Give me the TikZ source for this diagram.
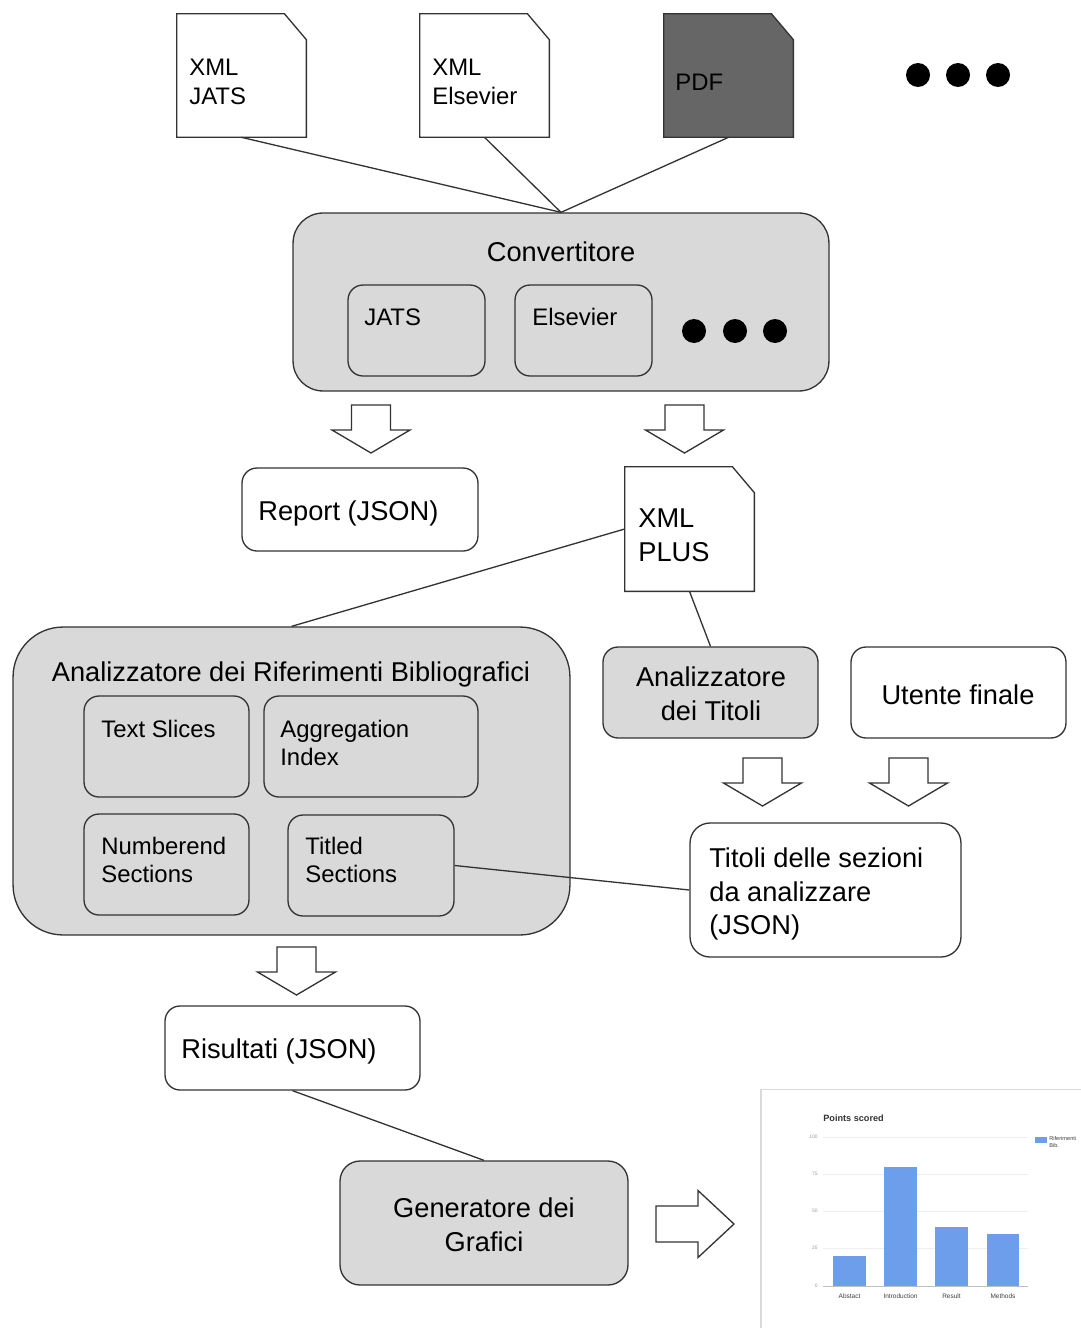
\documentclass[tikz,border=0pt]{standalone}
\usepackage{fontspec}
\setmainfont{Liberation Sans}
\usetikzlibrary{calc}
\definecolor{boxgray}{HTML}{D9D9D9}
\definecolor{pdfgray}{HTML}{666666}
\definecolor{linec}{HTML}{333333}
\definecolor{barblue}{HTML}{6D9EEB}
\definecolor{gridc}{HTML}{EEEEEE}
\definecolor{tickc}{HTML}{999999}
\newcommand{\docoutline}[2]{%
  \draw[outl,fill=#2] (#1.south west) -- (#1.north west) -- ($(#1.north east)+(-22,0)$) -- ($(#1.north east)+(0,26)$) -- (#1.south east) -- cycle;}
\tikzset{
  outl/.style={draw=linec,line width=0.75pt},
  bigtxt/.style={font=\fontsize{15.5}{19.3}\selectfont,inner sep=0pt},
  smalltxt/.style={font=\fontsize{13.6}{16.2}\selectfont,inner sep=0pt},
  docnode/.style={minimum width=2.58cm,minimum height=2.46cm,inner sep=0pt,draw=none},
  rbox/.style={outl,rounded corners=0.3cm,inner sep=0pt},
  graybox/.style={rbox,fill=boxgray},
  whitebox/.style={rbox,fill=white},
  dotc/.style={fill=black,circle,inner sep=0pt,minimum size=0.48cm},
  conn/.style={draw=linec,line width=0.75pt},
  arrowbox/.style={outl,fill=white,line join=miter},
  downarrow/.pic={\draw[arrowbox] (-19.5,0) -- (19.5,0) -- (19.5,25) -- (39,25) -- (0,48) -- (-39,25) -- (-19.5,25) -- cycle;},
  rightarrow/.pic={\draw[arrowbox] (0,-18) -- (42,-18) -- (42,-33.5) -- (78,0) -- (42,33.5) -- (42,18) -- (0,18) -- cycle;},
  ticklbl/.style={font=\fontsize{2.8}{3}\selectfont,text=tickc,inner sep=0pt},
  catlbl/.style={font=\fontsize{3.7}{4}\selectfont,text=black!75,inner sep=0pt},
}
\begin{document}
\begin{tikzpicture}[x=0.02cm,y=-0.02cm]
\useasboundingbox[fill=white] (0,0) rectangle (1081,1328);

% input documents
\node[docnode] (jats) at (241.5,75.5) {};
\node[docnode] (els) at (484.5,75.5) {};
\node[docnode] (pdf) at (728.5,75.5) {};
\docoutline{jats}{white}
\docoutline{els}{white}
\docoutline{pdf}{pdfgray}
\node[smalltxt,anchor=west,align=left] (tjats) at (189,82) {XML\\JATS};
\node[smalltxt,anchor=west,align=left] (tels) at (432,82) {XML\\Elsevier};
\node[smalltxt,anchor=west] (tpdf) at (675,82) {PDF};
\node[dotc] (d1) at (918,75) {};
\node[dotc] (d2) at (958,75) {};
\node[dotc] (d3) at (998,75) {};

% Convertitore
\node[graybox,rounded corners=0.6cm,minimum width=10.72cm,minimum height=3.56cm] (conv) at (561,302) {};
\node[bigtxt] (tconv) at (561,252) {Convertitore};
\node[graybox,minimum width=2.74cm,minimum height=1.82cm] (cjats) at (416.5,330.5) {};
\node[graybox,minimum width=2.74cm,minimum height=1.82cm] (cels) at (583.5,330.5) {};
\node[smalltxt,anchor=west] (tcjats) at (364,317) {JATS};
\node[smalltxt,anchor=west] (tcels) at (532,317) {Elsevier};
\node[dotc] (e1) at (694,331) {};
\node[dotc] (e2) at (735,331) {};
\node[dotc] (e3) at (775,331) {};

\draw[conn] (jats.south) -- (conv.north);
\draw[conn] (els.south) -- (conv.north);
\draw[conn] (pdf.south) -- (conv.north);

\pic (a1) at (371,405) {downarrow};
\pic (a2) at (684.5,405) {downarrow};

% outputs of converter
\node[whitebox,minimum width=4.72cm,minimum height=1.66cm] (report) at (360,509.5) {};
\node[bigtxt,anchor=west] (treport) at (258,513) {Report (JSON)};
\node[docnode,minimum height=2.48cm] (xmlp) at (689.5,529) {};
\docoutline{xmlp}{white}
\node[bigtxt,anchor=west,align=left] (txmlp) at (638,535) {XML\\PLUS};

% Analizzatore dei Riferimenti
\node[graybox,rounded corners=1.0cm,minimum width=11.14cm,minimum height=6.16cm] (arb) at (291.5,781) {};
\node[bigtxt] (tarb) at (291,674) {Analizzatore dei Riferimenti Bibliografici};
\node[graybox,minimum width=3.3cm,minimum height=2.02cm] (ts) at (166.5,746.5) {};
\node[graybox,minimum width=4.28cm,minimum height=2.02cm] (ai) at (371,746.5) {};
\node[graybox,minimum width=3.3cm,minimum height=2.02cm] (ns) at (166.5,864.5) {};
\node[graybox,minimum width=3.32cm,minimum height=2.02cm] (tsec) at (371,865.5) {};
\node[smalltxt,anchor=west] (tts) at (101,729) {Text Slices};
\node[smalltxt,anchor=west,align=left] (tai) at (280,743) {Aggregation\\Index};
\node[smalltxt,anchor=west,align=left] (tns) at (101,860) {Numberend\\Sections};
\node[smalltxt,anchor=west,align=left] (ttsec) at (305,860) {Titled\\Sections};

\draw[conn] (xmlp.west) -- (arb.north);

% Analizzatore dei Titoli, Utente finale
\node[graybox,minimum width=4.3cm,minimum height=1.82cm] (adt) at (710.5,692.5) {};
\node[bigtxt,align=center] (tadt) at (711,694) {Analizzatore\\dei Titoli};
\node[whitebox,minimum width=4.3cm,minimum height=1.82cm] (uf) at (958.5,692.5) {};
\node[bigtxt] (tuf) at (958,695) {Utente finale};
\draw[conn] (xmlp.south) -- (adt.north);

\pic (a3) at (762.5,758) {downarrow};
\pic (a4) at (908.5,758) {downarrow};

\node[whitebox,rounded corners=0.4cm,minimum width=5.42cm,minimum height=2.68cm] (tds) at (825.5,890) {};
\node[bigtxt,anchor=west,align=left] (ttds) at (709,894) {Titoli delle sezioni\\da analizzare\\(JSON)};
\draw[conn] (tsec.east) -- (tds.west);

\pic (a5) at (296.5,947) {downarrow};

% Risultati and Generatore
\node[whitebox,minimum width=5.1cm,minimum height=1.68cm] (ris) at (292.5,1048) {};
\node[bigtxt,anchor=west] (tris) at (181,1051) {Risultati (JSON)};
\node[graybox,rounded corners=0.4cm,minimum width=5.76cm,minimum height=2.48cm] (gen) at (484,1223) {};
\node[bigtxt,align=center] (tgen) at (484,1225) {Generatore dei\\Grafici};
\draw[conn] (ris.south) -- (gen.north);

\pic (a6) at (656,1224) {rightarrow};

% chart
\draw[black!15,line width=0.6pt] (761,1328) -- (761,1089.5) -- (1081,1089.5);
\node[font=\bfseries\fontsize{5.2}{6}\selectfont,text=black!80,anchor=west,inner sep=0pt] (ctitle) at (823,1118) {Points scored};
\foreach \yy/\lab in {1137/100,1174/75,1211/50,1248/25}{
  \draw[gridc,line width=0.5pt] (823,\yy) -- (1028,\yy);
  \node[ticklbl,anchor=east] (tk\lab) at (818,\yy) {\lab};
}
\draw[black!25,line width=0.5pt] (823,1286) -- (1028,1286);
\node[ticklbl,anchor=east] (tk0) at (818,1286) {0};
\fill[barblue] (833,1286) rectangle (866,1256);
\fill[barblue] (884,1286) rectangle (917,1167);
\fill[barblue] (935,1286) rectangle (968,1227);
\fill[barblue] (987,1286) rectangle (1019,1234);
\node[catlbl] (c1) at (849.5,1296) {Abstact};
\node[catlbl] (c2) at (900.5,1296) {Introduction};
\node[catlbl] (c3) at (951.5,1296) {Result};
\node[catlbl] (c4) at (1003,1296) {Methods};
\fill[barblue] (1035,1137) rectangle (1047,1143);
\node[catlbl,font=\fontsize{3.2}{3.8}\selectfont,anchor=north west,align=left] (leg) at (1049,1136) {Riferimenti\\Bib.};
\end{tikzpicture}
\end{document}
